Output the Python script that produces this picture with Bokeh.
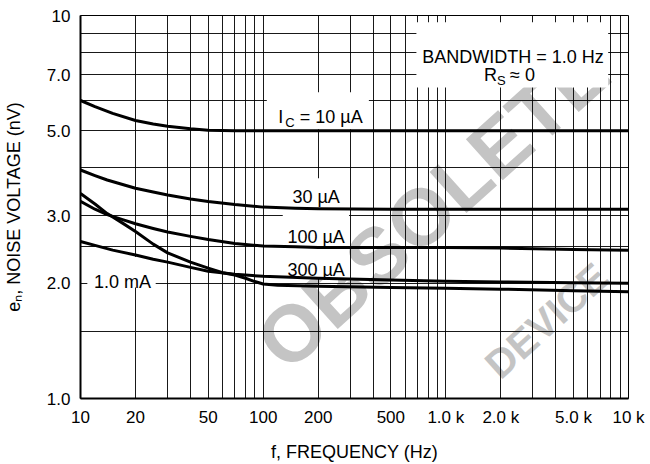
import math
from bokeh.plotting import figure
from bokeh.models import FixedTicker, Label
from bokeh.embed import file_html
from bokeh.resources import INLINE

FONT = "Liberation Sans"

# ---- data ----
ic10_f = [10, 12, 15, 20, 25, 30, 40, 50, 70, 100, 1000, 10000]
ic10_v = [6.0, 5.78, 5.55, 5.32, 5.21, 5.14, 5.06, 5.02, 5.0, 5.0, 5.0, 5.0]

ic30_f = [10, 12, 14, 17, 20, 25, 30, 40, 50, 70, 100, 150, 200, 500, 1000, 10000]
ic30_v = [3.95, 3.82, 3.72, 3.62, 3.54, 3.46, 3.40, 3.32, 3.27, 3.21, 3.16, 3.14, 3.13, 3.12, 3.12, 3.12]

ic100_f = [10, 12, 14, 17, 20, 25, 30, 40, 50, 70, 100, 150, 200, 500, 1000, 2000, 5000, 10000]
ic100_v = [3.27, 3.12, 3.02, 2.93, 2.86, 2.78, 2.72, 2.65, 2.60, 2.54, 2.50, 2.49, 2.48, 2.48, 2.48, 2.47, 2.45, 2.44]

ic300_f = [10, 12, 15, 20, 25, 30, 40, 50, 70, 100, 200, 500, 1000, 2000, 5000, 10000]
ic300_v = [2.57, 2.51, 2.44, 2.37, 2.31, 2.27, 2.20, 2.15, 2.11, 2.085, 2.06, 2.04, 2.025, 2.015, 2.005, 2.0]

ic1m_f = [10, 12, 14, 17, 20, 25, 30, 40, 50, 60, 70, 80, 90, 100, 120, 200, 500, 1000, 2000, 5000, 10000]
ic1m_v = [3.43, 3.22, 3.04, 2.87, 2.73, 2.53, 2.40, 2.27, 2.19, 2.13, 2.10, 2.06, 2.02, 1.99, 1.975, 1.965, 1.95, 1.94, 1.93, 1.91, 1.90]

x_ticks = [10, 20, 50, 100, 200, 500, 1000, 2000, 5000, 10000]
x_tick_labels = ["10", "20", "50", "100", "200", "500", "1.0 k", "2.0 k", "5.0 k", "10 k"]
y_ticks = [1, 2, 3, 5, 7, 10]
y_tick_labels = ["1.0", "2.0", "3.0", "5.0", "7.0", "10"]
x_grid = [m * 10 ** d for d in range(1, 4) for m in range(1, 10)] + [10000]
y_grid = [1, 1.5, 2, 2.5, 3, 4, 5, 6, 7, 8, 9, 10]

p = figure(width=650, height=464, x_axis_type="log", y_axis_type="log",
           x_range=(10, 10000), y_range=(1, 10),
           output_backend="svg", toolbar_location=None,
           min_border_left=80, min_border_right=22, min_border_top=15, min_border_bottom=65)
p.background_fill_color = "white"
p.border_fill_color = "white"
p.outline_line_color = "black"
p.outline_line_width = 1

for ax, ticks, labels in ((p.xaxis, x_ticks, x_tick_labels), (p.yaxis, y_ticks, y_tick_labels)):
    ax.ticker = FixedTicker(ticks=ticks)
    ax.major_label_overrides = {t: l for t, l in zip(ticks, labels)}
    ax.major_tick_line_color = None
    ax.minor_tick_line_color = None
    ax.major_tick_out = 0
    ax.major_tick_in = 0
    ax.axis_line_color = "black"
    ax.axis_line_width = 2
    ax.major_label_text_font = FONT
    ax.major_label_text_font_size = "17px"
    ax.major_label_text_color = "black"
    ax.axis_label_text_font = FONT
    ax.axis_label_text_font_size = "18px"
    ax.axis_label_text_font_style = "normal"
    ax.axis_label_text_color = "black"
p.xaxis.major_label_standoff = 9
p.yaxis.major_label_standoff = 10
p.xaxis.axis_label = "f, FREQUENCY (Hz)"
p.xaxis.axis_label_standoff = 12
p.yaxis.axis_label = "e\u2099, NOISE VOLTAGE (nV)"
p.yaxis.axis_label_standoff = 20

p.xgrid.ticker = FixedTicker(ticks=x_grid)
p.ygrid.ticker = FixedTicker(ticks=y_grid)
for g in (p.xgrid, p.ygrid):
    g.grid_line_color = "black"
    g.grid_line_width = 1
    g.grid_line_alpha = 0.9

# watermark, kept whole inside the plot frame, drawn beneath grid and curves
wm_angle = math.radians(42)
p.add_layout(Label(x=10, y=1, x_offset=352, y_offset=192, text="OBSOLETE",
                   text_font=FONT, text_font_style="bold", text_font_size="80px",
                   text_color="#c4c4c4", text_align="center",
                   text_baseline="middle", angle=wm_angle, level="image"))
p.add_layout(Label(x=10, y=1, x_offset=466, y_offset=78, text="DEVICE",
                   text_font=FONT, text_font_style="bold", text_font_size="40px",
                   text_color="#c4c4c4", text_align="center",
                   text_baseline="middle", angle=wm_angle, level="image"))

# white boxes behind the annotation texts
box_left = [104.7, 128, 10.9, 690]
box_right = [379, 295, 25.8, 7740]
box_bottom = [5.05, 2.06, 1.95, 6.49]
box_top = [6.30, 3.76, 2.34, 9.6]
p.quad(left=box_left, right=box_right, bottom=box_bottom, top=box_top,
       fill_color="white", line_color=None)

for f, v in ((ic10_f, ic10_v), (ic30_f, ic30_v), (ic100_f, ic100_v),
             (ic300_f, ic300_v), (ic1m_f, ic1m_v)):
    p.line(f, v, line_color="black", line_width=3, line_join="round")


def lab(x, y, text, size=18, xo=0, yo=0, align="left", baseline="alphabetic", angle=0.0):
    p.add_layout(Label(x=x, y=y, x_offset=xo, y_offset=yo, text=text, text_font=FONT,
                       text_font_size=f"{size}px", text_color="black",
                       text_align=align, text_baseline=baseline, angle=angle))


# I_C = 10 uA
lab(120.9, 5.43, "I")
lab(120.9, 5.43, "C", size=13, xo=7, yo=-5)
lab(120.9, 5.43, "= 10 \u00b5A", xo=21.5)
# other curve labels
lab(195, 3.36, "30 \u00b5A", align="center")
lab(195, 2.64, "100 \u00b5A", align="center")
lab(195, 2.17, "300 \u00b5A", align="center")
lab(11.85, 2.02, "1.0 mA")
# conditions box
lab(2330, 7.79, "BANDWIDTH = 1.0 Hz", align="center")
lab(1618, 6.98, "R")
lab(1618, 6.98, "S", size=13, xo=13, yo=-5)
lab(1618, 6.98, "\u2248 0", xo=26)

open("out.html", "w").write(file_html(p, INLINE))
